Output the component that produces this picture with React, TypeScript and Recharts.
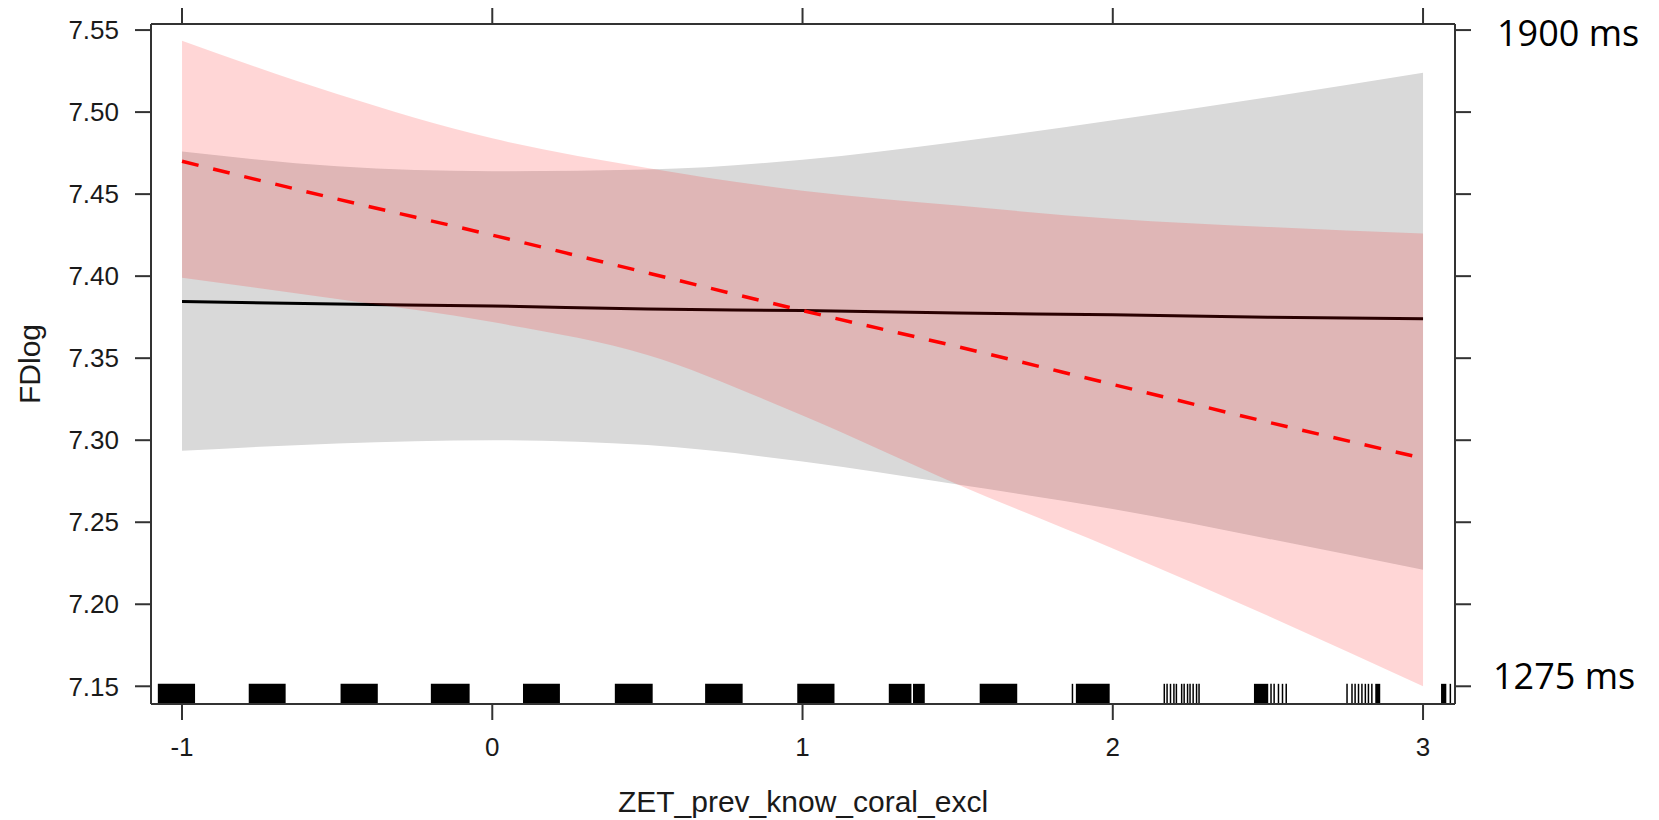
import {
  Area,
  ComposedChart,
  Line,
  ReferenceArea,
  ReferenceLine,
  XAxis,
  YAxis,
} from "recharts";

// effect grid (ZET_prev_know_coral_excl)
const xs = [-1, -0.5, 0, 0.5, 1, 1.5, 2, 2.5, 3];

// black / grey condition
const greyFit = [7.3845, 7.383, 7.3818, 7.380, 7.379, 7.3775, 7.3765, 7.375, 7.374];
const greyLo = [7.2935, 7.298, 7.300, 7.297, 7.287, 7.273, 7.258, 7.240, 7.221];
const greyHi = [7.476, 7.467, 7.464, 7.465, 7.471, 7.482, 7.495, 7.509, 7.524];

// red / dashed condition
const redFit = [7.470, 7.447, 7.425, 7.402, 7.379, 7.357, 7.334, 7.311, 7.289];
const redLo = [7.399, 7.386, 7.372, 7.352, 7.315, 7.273, 7.234, 7.193, 7.150];
const redHi = [7.5435, 7.511, 7.484, 7.466, 7.452, 7.443, 7.435, 7.430, 7.426];

// rug of observed x values: dense clusters and single lines
const rugBlocks = [
  [-1.078, -0.958], [-0.785, -0.666], [-0.489, -0.369], [-0.198, -0.073],
  [0.099, 0.218], [0.395, 0.517], [0.686, 0.807], [0.983, 1.103],
  [1.278, 1.351], [1.356, 1.394], [1.571, 1.692], [1.881, 1.99],
  [2.455, 2.501], [2.846, 2.862], [3.058, 3.075],
];
const rugLines = [
  1.87, 2.166, 2.175, 2.186, 2.197, 2.205, 2.222, 2.23, 2.241, 2.249, 2.259,
  2.27, 2.278, 2.51, 2.52, 2.534, 2.547, 2.559, 2.755, 2.771, 2.781, 2.792,
  2.803, 2.814, 2.824, 2.835, 3.088,
];

const xTicks = [-1, 0, 1, 2, 3];
const yTicks = [7.15, 7.2, 7.25, 7.3, 7.35, 7.4, 7.45, 7.5, 7.55];
const xDomain = [-1.1, 3.103];
const yDomain = [7.1392, 7.5537];
const rugTop = 7.1515;

const data = xs.map((x, i) => ({
  x,
  greyFit: greyFit[i],
  grey: [greyLo[i], greyHi[i]],
  redFit: redFit[i],
  red: [redLo[i], redHi[i]],
}));

const axisColor = "#333";
const tickFont = { fill: "#1a1a1a", fontSize: 26, fontFamily: "'Liberation Sans', Arial, sans-serif" };

// tick marks only, no labels (top and right sides of the box)
const NoLabel = () => <g />;

export default function App() {
  return (
    <div style={{ position: "absolute", left: 0, top: 0, width: 1659, height: 820, background: "#fff" }}>
      <ComposedChart
        width={1659}
        height={820}
        data={data}
        margin={{ top: 23, left: 71, right: 203, bottom: 56 }}
      >
        <XAxis
          dataKey="x"
          type="number"
          domain={xDomain}
          ticks={xTicks}
          allowDataOverflow
          height={60}
          tickSize={16}
          tickMargin={18}
          tick={tickFont}
          stroke={axisColor}
          strokeWidth={2}
        />
        <XAxis
          xAxisId="top"
          orientation="top"
          dataKey="x"
          type="number"
          domain={xDomain}
          ticks={xTicks}
          allowDataOverflow
          height={1}
          tickSize={16}
          tick={NoLabel}
          stroke={axisColor}
          strokeWidth={2}
        />
        <YAxis
          type="number"
          domain={yDomain}
          ticks={yTicks}
          allowDataOverflow
          width={80}
          tickSize={16}
          tickMargin={16}
          tick={tickFont}
          tickFormatter={(v: number) => v.toFixed(2)}
          stroke={axisColor}
          strokeWidth={2}
        />
        <YAxis
          yAxisId="right"
          orientation="right"
          type="number"
          domain={yDomain}
          ticks={yTicks}
          allowDataOverflow
          width={1}
          tickSize={16}
          tick={NoLabel}
          stroke={axisColor}
          strokeWidth={2}
        />

        <Area
          dataKey="grey"
          type="monotone"
          stroke="none"
          fill="#d9d9d9"
          fillOpacity={1}
          isAnimationActive={false}
          activeDot={false}
          zIndex={100}
        />
        <Line
          dataKey="greyFit"
          type="monotone"
          stroke="#000"
          strokeWidth={3}
          dot={false}
          activeDot={false}
          isAnimationActive={false}
          zIndex={110}
        />
        <Area
          dataKey="red"
          type="monotone"
          stroke="none"
          fill="#ff0000"
          fillOpacity={0.16}
          isAnimationActive={false}
          activeDot={false}
          zIndex={120}
        />
        <Line
          dataKey="redFit"
          type="monotone"
          stroke="#ff0000"
          strokeWidth={3.5}
          strokeDasharray="17 15"
          dot={false}
          activeDot={false}
          isAnimationActive={false}
          zIndex={130}
        />

        {rugBlocks.map(([a, b], i) => (
          <ReferenceArea
            key={"b" + i}
            x1={a}
            x2={b}
            y1={yDomain[0]}
            y2={rugTop}
            fill="#000"
            fillOpacity={1}
            stroke="none"
          />
        ))}
        {rugLines.map((v, i) => (
          <ReferenceLine
            key={"l" + i}
            segment={[
              { x: v, y: yDomain[0] },
              { x: v, y: rugTop },
            ]}
            stroke="#000"
            strokeWidth={1.5}
          />
        ))}
      </ComposedChart>

      <div
        style={{
          position: "absolute",
          left: 29.5 - 100,
          top: 364 - 15,
          width: 200,
          height: 30,
          lineHeight: "30px",
          textAlign: "center",
          transform: "rotate(-90deg)",
          fontFamily: "'Liberation Sans', Arial, sans-serif",
          fontSize: 30,
          color: "#1a1a1a",
        }}
      >
        FDlog
      </div>
      <div
        style={{
          position: "absolute",
          left: 803 - 300,
          top: 787,
          width: 600,
          lineHeight: "30px",
          textAlign: "center",
          fontFamily: "'Liberation Sans', Arial, sans-serif",
          fontSize: 30,
          color: "#1a1a1a",
        }}
      >
        ZET_prev_know_coral_excl
      </div>
      <div
        style={{
          position: "absolute",
          left: 1497,
          top: 15,
          lineHeight: "36px",
          fontFamily: "'Open Sans', sans-serif",
          fontSize: 36,
          color: "#000",
          whiteSpace: "nowrap",
        }}
      >
        1900 ms
      </div>
      <div
        style={{
          position: "absolute",
          left: 1493,
          top: 658,
          lineHeight: "36px",
          fontFamily: "'Open Sans', sans-serif",
          fontSize: 36,
          color: "#000",
          whiteSpace: "nowrap",
        }}
      >
        1275 ms
      </div>
    </div>
  );
}
